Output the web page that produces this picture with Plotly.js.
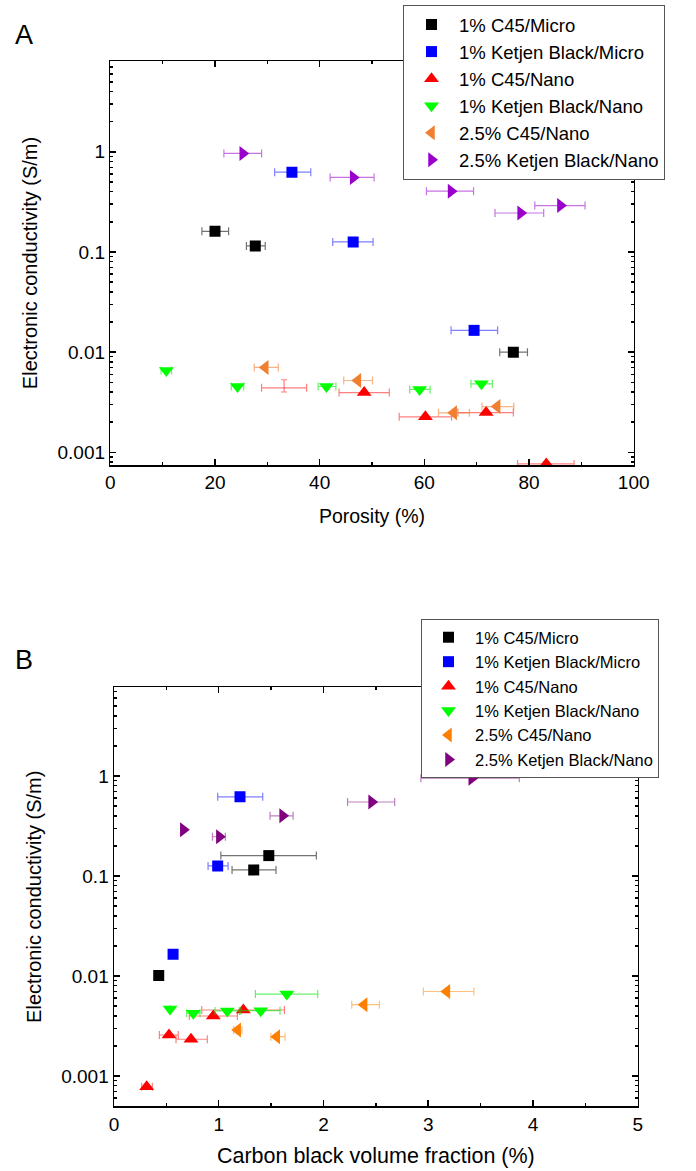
<!DOCTYPE html>
<html>
<head>
<meta charset="utf-8">
<script src="https://cdn.plot.ly/plotly-3.0.1.min.js"></script>
<style>html,body{margin:0;padding:0;background:#fff;}#chart{width:696px;height:1171px;}</style>
</head>
<body>
<div id="chart"></div>
<script>
// ---------- Series names ----------
const seriesNames = ["1% C45/Micro", "1% Ketjen Black/Micro", "1% C45/Nano",
                     "1% Ketjen Black/Nano", "2.5% C45/Nano", "2.5% Ketjen Black/Nano"];

// ---------- Panel A: conductivity vs porosity (%) ----------
const A_c45Micro_x   = [20.0, 27.7, 77.0];
const A_c45Micro_y   = [0.161, 0.115, 0.0100];
const A_c45Micro_ep  = [2.6, 1.9, 2.7];
const A_c45Micro_em  = [2.5, 1.7, 2.6];

const A_kbMicro_x    = [34.7, 46.4, 69.5];
const A_kbMicro_y    = [0.627, 0.126, 0.0165];
const A_kbMicro_ep   = [3.6, 3.8, 4.5];
const A_kbMicro_em   = [3.3, 3.9, 4.4];

const A_c45Nano_x    = [48.5, 60.2, 71.8, 83.3];
const A_c45Nano_y    = [0.00395, 0.00226, 0.00249, 0.000766];
const A_c45Nano_ep   = [4.8, 5.0, 5.2, 5.3];
const A_c45Nano_em   = [4.8, 5.0, 5.4, 5.5];

// point whose marker is not drawn in panel A (error bars only)
const A_c45NanoHidden_x  = [33.2];
const A_c45NanoHidden_y  = [0.0044];
const A_c45NanoHidden_ep = [4.3];
const A_c45NanoHidden_em = [4.3];
const A_c45NanoHidden_yp = [0.0009];
const A_c45NanoHidden_ym = [0.0004];

const A_kbNano_x     = [10.7, 24.3, 41.3, 59.1, 70.9];
const A_kbNano_y     = [0.00656, 0.00454, 0.00454, 0.00424, 0.00483];
const A_kbNano_ep    = [1.0, 1.2, 1.8, 2.0, 2.1];
const A_kbNano_em    = [1.0, 1.2, 1.6, 1.9, 2.0];

const A_c45Nano25_x  = [29.6, 47.3, 65.6, 73.9];
const A_c45Nano25_y  = [0.00703, 0.00521, 0.00248, 0.00286];
const A_c45Nano25_ep = [2.5, 2.8, 3.0, 3.2];
const A_c45Nano25_em = [2.1, 2.7, 2.9, 2.9];

const A_kbNano25_x   = [25.3, 46.4, 65.1, 78.4, 86.0];
const A_kbNano25_y   = [0.964, 0.555, 0.405, 0.245, 0.291];
const A_kbNano25_ep  = [3.6, 4.0, 4.3, 4.4, 4.7];
const A_kbNano25_em  = [3.6, 4.4, 4.7, 4.9, 4.9];

// ---------- Panel B: conductivity vs carbon black volume fraction (%) ----------
const B_c45Micro_x   = [1.478, 1.334, 0.427];
const B_c45Micro_y   = [0.160, 0.115, 0.0101];
const B_c45Micro_ep  = [0.454, 0.213, 0.0];
const B_c45Micro_em  = [0.458, 0.207, 0.0];

const B_kbMicro_x    = [1.203, 0.990, 0.564];
const B_kbMicro_y    = [0.620, 0.126, 0.0165];
const B_kbMicro_ep   = [0.217, 0.099, 0.0];
const B_kbMicro_em   = [0.213, 0.092, 0.0];

const B_c45Nano_x    = [0.312, 0.525, 0.735, 0.948, 1.235];
const B_c45Nano_y    = [0.00078, 0.00257, 0.00233, 0.00398, 0.00457];
const B_c45Nano_ep   = [0.054, 0.089, 0.156, 0.230, 0.392];
const B_c45Nano_em   = [0.047, 0.092, 0.143, 0.229, 0.397];

const B_kbNano_x     = [1.650, 0.535, 0.757, 1.082, 1.401];
const B_kbNano_y     = [0.0066, 0.00468, 0.00424, 0.00447, 0.00450];
const B_kbNano_ep    = [0.295, 0.0, 0.064, 0.115, 0.184];
const B_kbNano_em    = [0.300, 0.0, 0.063, 0.117, 0.191];

const B_c45Nano25_x  = [3.178, 2.388, 1.181, 1.554];
const B_c45Nano25_y  = [0.0070, 0.00517, 0.00288, 0.00247];
const B_c45Nano25_ep = [0.258, 0.146, 0.04, 0.079];
const B_c45Nano25_em = [0.224, 0.118, 0.04, 0.057];

const B_kbNano25_x   = [3.416, 2.460, 1.610, 0.662, 1.006];
const B_kbNano25_y   = [0.950, 0.550, 0.400, 0.290, 0.247];
const B_kbNano25_ep  = [0.454, 0.220, 0.100, 0.0, 0.057];
const B_kbNano25_em  = [0.486, 0.230, 0.120, 0.0, 0.066];

// ---------- Tick labels ----------
const yTickVals = [0.001, 0.01, 0.1, 1];
const yTickText = ["0.001", "0.01", "0.1", "1"];

// ---------- Styling ----------
const colA = ["#000000", "#0000FF", "#FF0000", "#00FF00", "#F08030", "#9900CC"];
const errA = ["rgba(0,0,0,0.55)", "rgba(0,0,255,0.5)", "rgba(255,0,0,0.5)", "rgba(0,230,0,0.6)", "rgba(240,128,48,0.6)", "rgba(153,0,204,0.55)"];
const colB = ["#000000", "#0000FF", "#FF0000", "#00FF00", "#FF8000", "#800080"];
const errB = ["rgba(0,0,0,0.55)", "rgba(0,0,255,0.5)", "rgba(255,0,0,0.5)", "rgba(0,230,0,0.6)", "rgba(255,128,0,0.5)", "rgba(128,0,128,0.5)"];
const symbols = ["square", "square", "triangle-up", "triangle-down", "triangle-left", "triangle-right"];
const sizes = [11, 11, 13, 13, 13, 13];

function mk(i, x, y, ep, em, panel) {
  const B = panel === 2;
  return {
    type: "scatter", mode: "markers", name: seriesNames[i],
    x: x, y: y,
    xaxis: B ? "x2" : "x", yaxis: B ? "y2" : "y",
    legend: B ? "legend2" : "legend",
    marker: {symbol: symbols[i], size: sizes[i], color: (B ? colB : colA)[i], line: {width: 0}},
    error_x: {type: "data", symmetric: false, array: ep, arrayminus: em,
              color: (B ? errB : errA)[i], thickness: 1.2, width: 4}
  };
}

const traces = [
  mk(0, A_c45Micro_x, A_c45Micro_y, A_c45Micro_ep, A_c45Micro_em, 1),
  mk(1, A_kbMicro_x, A_kbMicro_y, A_kbMicro_ep, A_kbMicro_em, 1),
  mk(2, A_c45Nano_x, A_c45Nano_y, A_c45Nano_ep, A_c45Nano_em, 1),
  mk(3, A_kbNano_x, A_kbNano_y, A_kbNano_ep, A_kbNano_em, 1),
  mk(4, A_c45Nano25_x, A_c45Nano25_y, A_c45Nano25_ep, A_c45Nano25_em, 1),
  mk(5, A_kbNano25_x, A_kbNano25_y, A_kbNano25_ep, A_kbNano25_em, 1),
  mk(0, B_c45Micro_x, B_c45Micro_y, B_c45Micro_ep, B_c45Micro_em, 2),
  mk(1, B_kbMicro_x, B_kbMicro_y, B_kbMicro_ep, B_kbMicro_em, 2),
  mk(2, B_c45Nano_x, B_c45Nano_y, B_c45Nano_ep, B_c45Nano_em, 2),
  mk(3, B_kbNano_x, B_kbNano_y, B_kbNano_ep, B_kbNano_em, 2),
  mk(4, B_c45Nano25_x, B_c45Nano25_y, B_c45Nano25_ep, B_c45Nano25_em, 2),
  mk(5, B_kbNano25_x, B_kbNano25_y, B_kbNano25_ep, B_kbNano25_em, 2)
];
// hidden-marker point (error bars only)
const hid = mk(2, A_c45NanoHidden_x, A_c45NanoHidden_y, A_c45NanoHidden_ep, A_c45NanoHidden_em, 1);
hid.showlegend = false;
hid.marker.opacity = 0;
hid.error_y = {type: "data", symmetric: false, array: A_c45NanoHidden_yp, arrayminus: A_c45NanoHidden_ym,
               color: errA[2], thickness: 1.2, width: 3};
traces.push(hid);

const FONT = "Liberation Sans, Arial, Helvetica, sans-serif";
function xax(domain, range, dtick, minorDtick, title, tsize, standoff, anchor) {
  return {
    domain: domain, range: range, tick0: 0, dtick: dtick, anchor: anchor,
    ticks: "inside", ticklen: 6, tickwidth: 1.5, tickcolor: "#000",
    mirror: "allticks", showline: true, linewidth: 1.5, linecolor: "#000",
    showgrid: false, zeroline: false,
    minor: {dtick: minorDtick, tick0: 0, ticks: "inside", ticklen: 3, tickwidth: 1.5, tickcolor: "#000", showgrid: false},
    tickfont: {size: 19, family: FONT, color: "#000"},
    title: {text: title, font: {size: tsize, family: FONT, color: "#000"}, standoff: standoff}
  };
}
function yax(domain, range, anchor) {
  return {
    domain: domain, type: "log", range: range, anchor: anchor,
    tickmode: "array", tickvals: yTickVals, ticktext: yTickText,
    ticks: "inside", ticklen: 6, tickwidth: 1.5, tickcolor: "#000",
    mirror: "allticks", showline: true, linewidth: 1.5, linecolor: "#000",
    showgrid: false, zeroline: false,
    minor: {dtick: "D1", ticks: "inside", ticklen: 3, tickwidth: 1.5, tickcolor: "#000", showgrid: false},
    tickfont: {size: 19, family: FONT, color: "#000"},
    title: {text: "Electronic conductivity (S/m)", font: {size: 20, family: FONT, color: "#000"}, standoff: 14}
  };
}

const layout = {
  width: 696, height: 1171,
  margin: {l: 0, r: 0, t: 0, b: 0},
  paper_bgcolor: "#fff", plot_bgcolor: "#fff",
  font: {family: FONT, size: 18, color: "#000"},
  xaxis: xax([0.1585, 0.9105], [0, 100], 20, 10, "Porosity (%)", 19.5, 17, "y"),
  yaxis: yax([0.6029, 0.9479], [-3.127, 0.907], "x"),
  xaxis2: xax([0.1638, 0.9162], [0, 5], 1, 0.5, "Carbon black volume fraction (%)", 21.5, 14, "y2"),
  yaxis2: yax([0.0551, 0.4133], [-3.305, 0.89], "x2"),
  legend: {x: 403/696, y: 1 - 5/1171, xanchor: "left", yanchor: "top",
           bgcolor: "#fff", bordercolor: "#555", borderwidth: 1, itemwidth: 45,
           font: {size: 18.5, family: FONT, color: "#000"}, tracegroupgap: 0},
  legend2: {x: 421/696, y: 1 - 619/1171, xanchor: "left", yanchor: "top",
           bgcolor: "#fff", bordercolor: "#555", borderwidth: 1, itemwidth: 43,
           font: {size: 16.5, family: FONT, color: "#000"}, tracegroupgap: 0},
  annotations: [
    {text: "A", xref: "paper", yref: "paper", x: 13/696, y: 1 - 35/1171, xanchor: "left", yanchor: "middle",
     showarrow: false, font: {size: 27, family: FONT, color: "#000"}},
    {text: "B", xref: "paper", yref: "paper", x: 13/696, y: 1 - 660/1171, xanchor: "left", yanchor: "middle",
     showarrow: false, font: {size: 27, family: FONT, color: "#000"}}
  ],
  showlegend: true
};

Plotly.newPlot("chart", traces, layout, {displayModeBar: false, staticPlot: true});
</script>
</body>
</html>
